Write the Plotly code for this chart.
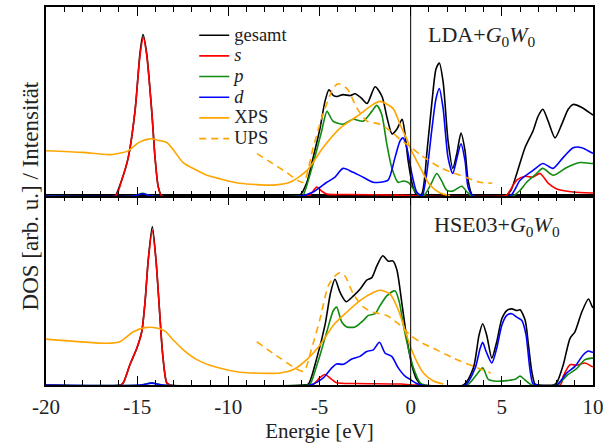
import plotly.graph_objects as go

FONT = "Liberation Serif"

# ---------------- tick labels ----------------
TICK_VALS = [-20, -15, -10, -5, 0, 5, 10]
TICK_TEXT = ["-20", "-15", "-10", "-5", "0", "5", "10"]
FERMI_LEVEL = 0

# ---------------- LDA + G0W0 (top panel) ----------------
lda_tot_e = [-20, -16.3, -16.2, -15.85, -15.49, -15.12, -14.84, -14.68, -14.48, -14.2, -14.02, -13.84, -13.65, -13.3,
             -6.4, -6.07, -5.7, -5.35, -4.97, -4.7, -4.48, -4.25, -4.04, -3.71, -3.32, -3.05, -2.7, -2.39, -1.95, -1.57,
             -1.29, -1.02, -0.75, -0.47, -0.31, -0.14, 0.13, 0.35, 0.6, 0.9, 1.17, 1.39, 1.57, 1.78, 2.05, 2.31, 2.53,
             2.76, 2.98, 3.15, 3.42, 5.2, 5.5, 5.82, 6.27, 6.71, 6.99, 7.25, 7.54, 7.92, 8.29, 8.64, 8.91, 9.39, 9.93, 10]
lda_tot_v = [0, 0, 0, 0.84, 2.04, 4.5, 7.64, 8.59, 7.6, 4.5, 2.04, 0.47, 0, 0,
             0, 0.05, 0.7, 2.04, 3.61, 5.03, 5.65, 5.35, 5.29, 5.39, 5.34, 5.44, 5.2, 4.92, 5.81, 5.29,
             4.14, 3.3, 3.56, 4.08, 3.3, 1.88, 0.47, 0.05, 0.1, 2.41, 5.03, 6.75, 7.07, 6.07, 2.93, 1.47, 2.25,
             3.35, 2.41, 0.84, 0, 0, 0.3, 1.2, 2.57, 3.46, 4.24, 4.61, 3.98, 3.09, 3.82, 4.61, 4.87, 4.71, 4.35, 4.3]

lda_s_e = [-20, -16.2, -15.85, -15.49, -15.12, -14.84, -14.66, -14.48, -14.2, -14.02, -13.84, -13.65,
           -5.7, -5.52, -5.15, -4.88, -4.6, -3.5, -1.0, 0.0, 0.5, 5.1, 5.27, 5.82, 6.27, 6.71, 7.1, 7.54,
           8.01, 8.91, 9.93, 10]
lda_s_v = [0, 0, 0.84, 2.04, 4.5, 7.5, 8.43, 7.5, 4.5, 2.04, 0.47, 0,
           0, 0.05, 0.47, 0.26, 0.1, 0.08, 0.05, 0.03, 0, 0, 0.05, 0.84, 1.05, 1.0, 1.2, 0.68,
           0.37, 0.21, 0.16, 0.16]

lda_p_e = [-20, -15.2, -14.7, -14.2, -6.0, -5.9, -5.35, -4.88, -4.59, -4.26, -3.71, -3.16, -2.61, -2.13, -1.86,
           -1.59, -1.31, -1.04, -0.69, -0.4, -0.1, 0.15, 0.45, 0.6, 0.8, 1.1, 1.43, 1.7, 1.98, 2.3, 2.8, 3.1,
           3.35, 5.6, 6.0, 6.36, 6.8, 7.25, 7.81, 8.56, 9.29, 9.93, 10]
lda_p_v = [0, 0, 0.15, 0, 0, 0.03, 1.73, 3.46, 4.5, 3.98, 3.82, 4.08, 3.98, 4.5, 4.82,
           4.35, 2.77, 1.52, 0.73, 0.8, 0.7, 0.37, 0.05, 0, 0.1, 0.6, 1.2, 0.8, 0.31, 0.26, 0.52, 0.2,
           0, 0, 0.3, 0.73, 1.1, 1.47, 1.1, 1.52, 1.78, 1.73, 1.73]

lda_d_e = [-20, -15.2, -14.7, -14.2, -6.0, -5.35, -4.6, -4.15, -3.71, -3.16, -2.61, -2.06, -1.68, -1.24,
           -0.86, -0.58, -0.42, -0.21, 0.06, 0.33, 0.61, 0.65, 0.88, 1.17, 1.39, 1.57, 1.78, 2.05, 2.31, 2.53,
           2.76, 2.98, 3.15, 3.42, 5.45, 6.0, 6.71, 7.25, 7.81, 8.36, 8.91, 9.39, 9.93, 10]
lda_d_v = [0, 0, 0.12, 0, 0, 0.21, 0.73, 1.0, 1.47, 1.26, 1.0, 0.73, 0.73, 0.84,
           2.04, 2.93, 3.09, 2.57, 1.2, 0.21, 0, 0, 1.2, 3.61, 5.18, 5.71, 4.66, 2.04, 1.2, 1.99,
           2.77, 1.88, 0.47, 0, 0, 0.84, 1.36, 1.73, 1.47, 2.04, 2.57, 2.57, 2.3, 2.28]

lda_xps_e = [-20, -18, -16.49, -15.5, -14.9, -14.3, -13.8, -13.36, -12.9, -12.48, -11.8, -11.17, -10.2, -9.36,
             -7.55, -6.62, -5.68, -4.81, -3.87, -2.94, -2.06, -1.68, -0.97, -0.58, -0.2, 0.02, 0.52, 1.06, 1.61, 2.16]
lda_xps_v = [2.41, 2.32, 2.2, 2.4, 2.85, 3.04, 2.95, 2.83, 2.3, 1.78, 1.4, 1.1, 0.85, 0.68,
             0.58, 0.73, 1.36, 2.57, 3.61, 4.24, 4.87, 5.03, 4.66, 3.8, 3.0, 2.45, 1.52, 0.58, 0.16, 0.02]

lda_ups_e = [-8.43, -7.6, -6.8, -5.9, -5.35, -4.81, -4.26, -3.98, -3.49, -2.94, -2.39, -1.68, -0.97, -0.58,
             0.0, 0.52, 1.61, 2.71, 3.81, 4.47]
lda_ups_v = [2.25, 1.75, 1.25, 0.73, 2.57, 4.35, 5.71, 5.97, 5.71, 4.66, 3.98, 3.82, 3.35, 3.0,
             2.6, 2.2, 1.52, 1.1, 0.73, 0.68]

# ---------------- HSE03 + G0W0 (bottom panel) ----------------
hse_tot_e = [-20, -15.9, -15.76, -15.39, -15.02, -14.75, -14.57, -14.39, -14.17, -13.97, -13.78, -13.6, -13.38, -13.2,
             -5.9, -5.61, -5.15, -4.7, -4.39, -4.15, -3.87, -3.54, -3.14, -2.78, -2.41, -2.13, -1.86, -1.53, -1.22,
             -0.98, -0.76, -0.49, -0.21, 0.06, 0.33, 0.61, 2.9, 3.44, 3.75, 3.95, 4.17, 4.45, 4.72, 5.0, 5.27, 5.55,
             5.82, 6.0, 6.28, 6.46, 6.64, 6.82, 7.0, 7.83, 8.01, 8.37, 8.74, 9.01, 9.38, 9.75, 9.93, 10]
hse_tot_v = [0, 0, 0.12, 1.1, 1.95, 2.83, 4.4, 6.67, 8.43, 6.67, 4.05, 1.62, 0.12, 0,
             0, 0.05, 1.43, 3.18, 4.92, 5.62, 4.92, 4.43, 4.74, 5.09, 5.58, 5.71, 6.32, 6.87, 6.58,
             6.6, 6.14, 4.4, 2.48, 1.08, 0.3, 0, 0, 0.91, 2.65, 3.26, 2.65, 1.43, 2.3, 3.52, 3.96, 4.05,
             3.96, 4.0, 3.44, 2.13, 0.73, 0.05, 0, 0, 0.12, 1.08, 2.48, 2.83, 3.87, 4.57, 4.22, 4.1]

hse_s_e = [-20, -15.9, -15.76, -15.39, -15.02, -14.75, -14.57, -14.39, -14.17, -13.97, -13.78, -13.6, -13.38, -13.2,
           -5.4, -4.97, -4.7, -4.33, -4.06, -3.0, -0.5, 0.1, 8.2, 8.37, 8.74, 9.1, 9.56, 9.93, 10]
hse_s_v = [0, 0, 0.12, 1.1, 1.95, 2.83, 4.4, 6.67, 8.2, 6.67, 4.05, 1.62, 0.12, 0,
           0, 0.4, 0.56, 0.3, 0.12, 0.08, 0.05, 0, 0, 0.47, 1.08, 1.05, 1.17, 0.99, 0.97]

hse_p_e = [-20, -14.8, -14.2, -13.6, -5.6, -5.52, -4.97, -4.6, -4.24, -4.06, -3.78, -3.51, -3.05, -2.59, -2.32,
           -1.95, -1.68, -1.31, -0.86, -0.62, -0.4, -0.13, 0.15, 0.52, 0.8, 3.1, 3.62, 3.95, 4.26, 4.72, 5.27,
           5.73, 6.0, 6.28, 6.64, 8.0, 8.64, 9.1, 9.56, 9.93, 10]
hse_p_v = [0, 0, 0.12, 0, 0, 0.02, 1.6, 2.83, 3.96, 4.14, 3.35, 3.09, 3.09, 3.44, 3.7,
           3.79, 4.22, 4.74, 5.01, 4.4, 3.18, 1.95, 0.91, 0.12, 0, 0, 0.56, 0.91, 0.3, 0.2, 0.23,
           0.3, 0.47, 0.26, 0, 0, 0.56, 0.87, 1.35, 1.43, 1.43]

hse_d_e = [-20, -14.8, -14.2, -13.6, -5.5, -4.79, -4.33, -4.06, -3.69, -3.23, -2.78, -2.41, -2.05, -1.71, -1.4,
           -1.04, -0.68, -0.31, -0.03, 0.33, 0.6, 3.0, 3.54, 3.81, 3.95, 4.14, 4.45, 4.72, 5.0, 5.27, 5.55, 5.82,
           6.09, 6.33, 6.51, 6.7, 6.9, 8.01, 8.56, 9.01, 9.47, 9.75, 9.93, 10]
hse_d_v = [0, 0, 0.1, 0, 0, 0.38, 0.91, 1.12, 1.1, 1.38, 1.52, 1.78, 1.87, 2.27, 1.69,
           1.52, 0.91, 0.47, 0.3, 0.08, 0, 0, 0.91, 1.95, 2.27, 1.78, 1.17, 1.95, 3.18, 3.7, 3.79, 3.61,
           3.44, 2.65, 1.08, 0.08, 0, 0, 0.64, 0.99, 1.61, 1.81, 1.75, 1.74]

hse_xps_e = [-20, -16.67, -15.94, -15.21, -14.57, -13.93, -13.47, -13.02, -12.47, -11.73, -10.64, -9.36, -7.16,
             -6.43, -5.7, -4.97, -4.24, -3.51, -2.78, -2.05, -1.68, -1.13, -0.68, -0.21, 0.02, 0.33, 0.7, 1.25, 1.79]
hse_xps_v = [2.44, 2.22, 2.3, 2.83, 3.05, 3.03, 2.86, 2.39, 1.87, 1.35, 0.94, 0.68, 0.64,
             0.82, 1.35, 2.13, 3.18, 3.87, 4.49, 4.92, 5.04, 4.83, 4.0, 2.6, 1.95, 1.26, 0.64, 0.21, 0.05]

hse_ups_e = [-8.44, -7.16, -5.88, -5.43, -4.97, -4.52, -4.15, -3.87, -3.6, -3.14, -2.59, -2.05, -1.31, -0.58,
             -0.03, 0.5, 1.25, 2.35, 3.45, 4.39]
hse_ups_v = [2.3, 1.43, 0.73, 1.95, 3.52, 5.27, 5.8, 5.97, 5.8, 4.83, 4.14, 3.87, 3.7, 3.18,
             2.65, 2.3, 1.95, 1.43, 0.99, 0.64]

SERIES_NAMES = ["gesamt", "<i>s</i>", "<i>p</i>", "<i>d</i>", "XPS", "UPS"]
COLORS = ["#000000", "#ff0000", "#108a10", "#0000ff", "#ffa500", "#ffa500"]
DASHES = ["solid", "solid", "solid", "solid", "solid", "7px,5px"]

top_series = [(lda_tot_e, lda_tot_v), (lda_s_e, lda_s_v), (lda_p_e, lda_p_v),
              (lda_d_e, lda_d_v), (lda_xps_e, lda_xps_v), (lda_ups_e, lda_ups_v)]
bottom_series = [(hse_tot_e, hse_tot_v), (hse_s_e, hse_s_v), (hse_p_e, hse_p_v),
                 (hse_d_e, hse_d_v), (hse_xps_e, hse_xps_v), (hse_ups_e, hse_ups_v)]

fig = go.Figure()
for i, (e, v) in enumerate(top_series):
    fig.add_trace(go.Scatter(
        x=e, y=v, xaxis="x2", yaxis="y2", mode="lines",
        name='<span style="font-size:18.5px">' + SERIES_NAMES[i] + "</span>",
        line=dict(color=COLORS[i], width=1.6, dash=DASHES[i], shape="spline", smoothing=0.7),
        showlegend=True))
for i, (e, v) in enumerate(bottom_series):
    fig.add_trace(go.Scatter(
        x=e, y=v, xaxis="x", yaxis="y", mode="lines", name=SERIES_NAMES[i],
        line=dict(color=COLORS[i], width=1.6, dash=DASHES[i], shape="spline", smoothing=0.7),
        showlegend=False))

xcommon = dict(range=[-20, 10], tickvals=TICK_VALS, ticktext=TICK_TEXT, ticks="inside", ticklen=9,
               tickwidth=1.3, tickcolor="black", showline=True, linecolor="black", linewidth=1.5,
               mirror="allticks", showgrid=False, zeroline=False,
               minor=dict(dtick=1, ticks="inside", ticklen=5, tickwidth=1.3, tickcolor="black", showgrid=False),
               tickfont=dict(family=FONT, size=21, color="#222"))
ycommon = dict(range=[0, 10.05], showline=True, linecolor="black", linewidth=1.5, mirror=True,
               ticks="", showticklabels=False, showgrid=False, zeroline=False)

fig.update_layout(
    width=613, height=443,
    margin=dict(l=46, r=20, t=5, b=54),
    paper_bgcolor="white", plot_bgcolor="white",
    font=dict(family=FONT, size=21, color="#222"),
    xaxis=dict(anchor="y", title=dict(text="Energie [eV]", standoff=4, font=dict(size=21)),
               ticklabelstandoff=2, **xcommon),
    xaxis2=dict(anchor="y2", matches="x", showticklabels=False, **xcommon),
    yaxis=dict(domain=[0, 0.5], **ycommon),
    yaxis2=dict(domain=[0.5, 1], **ycommon),
    legend=dict(x=0.271, y=0.966, xanchor="left", yanchor="top", bgcolor="rgba(0,0,0,0)",
                font=dict(family=FONT, size=13.6, color="#222"), itemwidth=30,
                tracegroupgap=0),
    showlegend=True,
)

fig.add_shape(type="line", xref="x2", yref="y2 domain", x0=FERMI_LEVEL, x1=FERMI_LEVEL, y0=0, y1=1,
              line=dict(color="black", width=1))
fig.add_shape(type="line", xref="x", yref="y domain", x0=FERMI_LEVEL, x1=FERMI_LEVEL, y0=0, y1=1,
              line=dict(color="black", width=1))

fig.add_annotation(text="LDA+<i>G</i><sub>0</sub><i>W</i><sub>0</sub>", xref="x2", yref="y2",
                   x=3.9, y=8.53, showarrow=False, font=dict(family=FONT, size=22, color="#222"))
fig.add_annotation(text="HSE03+<i>G</i><sub>0</sub><i>W</i><sub>0</sub>", xref="x", yref="y",
                   x=4.75, y=8.48, showarrow=False, font=dict(family=FONT, size=22, color="#222"))
fig.add_annotation(text="DOS [arb. u.] / Intensität", xref="paper", yref="paper", x=-0.055, y=0.5,
                   textangle=-90, showarrow=False, font=dict(family=FONT, size=23, color="#222"))

fig.write_html("out.html")
